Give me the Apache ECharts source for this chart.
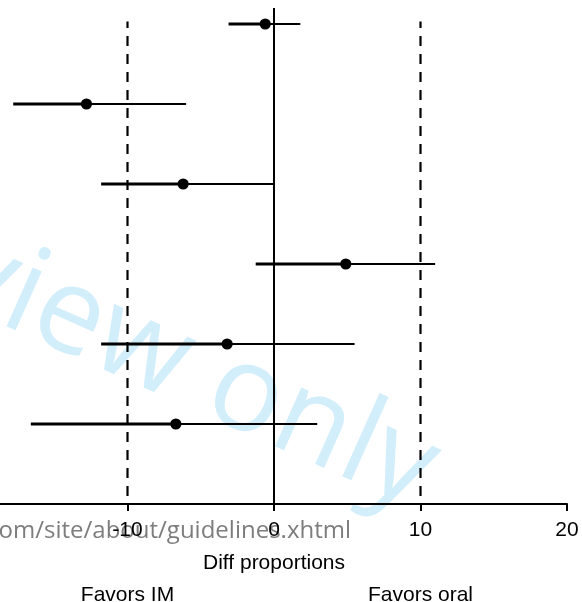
<!DOCTYPE html>
<html>
<head>
<meta charset="utf-8">
<script src="https://cdn.jsdelivr.net/npm/echarts@6/dist/echarts.min.js"></script>
<style>
html,body{margin:0;padding:0;background:#fff;overflow:hidden;width:582px;height:602px;position:relative;}
#c{position:absolute;left:-19px;top:0;width:601px;height:602px;}
</style>
</head>
<body>
<div id="c"></div>
<script>
// Data (difference in proportions, with confidence interval)
const rows = [6, 5, 4, 3, 2, 1];            // vertical position of each study (top to bottom)
const estimate = [-0.6, -12.8, -6.2, 4.9, -3.2, -6.7];
const lower = [-3.1, -17.8, -11.8, -1.25, -11.8, -16.6];
const upper = [1.8, -6.0, 0.0, 11.0, 5.5, 2.95];
const refLines = [-10, 10];                 // dashed margin lines
const xTicks = [-20, -10, 0, 10, 20];
const favorLabels = [{ text: 'Favors IM', x: -10 }, { text: 'Favors oral', x: 10 }];

const FONT = '"Liberation Sans", Arial, sans-serif';
const chart = echarts.init(document.getElementById('c'), null, { renderer: 'canvas' });

const ciData = rows.map((r, i) => [lower[i], upper[i], estimate[i], r]);

const option = {
  animation: false,
  backgroundColor: '#fff',
  grid: { left: 0, right: 15, top: 8, bottom: 98, containLabel: false, outerBoundsMode: 'none' },
  xAxis: {
    type: 'value',
    min: xTicks[0],
    max: xTicks[xTicks.length - 1],
    interval: 10,
    axisLine: { show: true, onZero: false, lineStyle: { color: '#000', width: 2 } },
    axisTick: { show: true, length: 7, lineStyle: { color: '#000', width: 2 } },
    axisLabel: { color: '#000', fontSize: 21, fontFamily: FONT, margin: 16 },
    splitLine: { show: false },
    name: 'Diff proportions',
    nameLocation: 'middle',
    nameGap: 49,
    nameTextStyle: { color: '#000', fontSize: 21, fontFamily: FONT }
  },
  yAxis: { type: 'value', min: 0, max: 6.2, show: false, splitLine: { show: false } },
  series: [
    {
      type: 'line',
      data: [[0, 0], [0, 6.2]],
      symbol: 'none',
      lineStyle: { color: '#000', width: 2 },
      z: 3
    },
    ...refLines.map(v => ({
      type: 'line',
      data: [[v, 0.1], [v, 6.03]],
      symbol: 'none',
      lineStyle: { color: '#000', width: 2.2, type: [10, 8] },
      z: 3
    })),
    {
      type: 'custom',
      data: ciData,
      z: 5,
      renderItem: function (params, api) {
        const lo = api.coord([api.value(0), api.value(3)]);
        const hi = api.coord([api.value(1), api.value(3)]);
        const est = api.coord([api.value(2), api.value(3)]);
        return {
          type: 'group',
          children: [
            { type: 'line', shape: { x1: lo[0], y1: lo[1], x2: est[0], y2: est[1] },
              style: { stroke: '#000', lineWidth: 3 } },
            { type: 'line', shape: { x1: est[0], y1: est[1], x2: hi[0], y2: hi[1] },
              style: { stroke: '#000', lineWidth: 2 } },
            { type: 'circle', shape: { cx: est[0], cy: est[1], r: 5.6 },
              style: { fill: '#000' } }
          ]
        };
      }
    }
  ]
};
chart.setOption(option);

const graphics = favorLabels.map(f => {
  const p = chart.convertToPixel({ xAxisIndex: 0, yAxisIndex: 0 }, [f.x, 0]);
  return {
    type: 'text', x: p[0], y: 595, z: 10,
    style: { text: f.text, fill: '#000', font: '21px ' + FONT, textAlign: 'center', textVerticalAlign: 'middle' }
  };
});
// watermark texts (positions in container pixels; container is shifted 19px left)
graphics.push({
  type: 'text', x: 370, y: 531, z: -1, silent: true,
  style: { text: 'om/site/about/guidelines.xhtml', fill: '#7d7d7d', font: '24px "Open Sans", sans-serif', textAlign: 'right', textVerticalAlign: 'middle' }
});
graphics.push({
  type: 'text', x: 212, y: 372, z: -2, silent: true, rotation: -0.42,
  style: { text: 'view only', fill: '#d3eefb', font: '120px "Open Sans", sans-serif', textAlign: 'center', textVerticalAlign: 'middle' }
});
chart.setOption({ graphic: graphics });
</script>
</body>
</html>
